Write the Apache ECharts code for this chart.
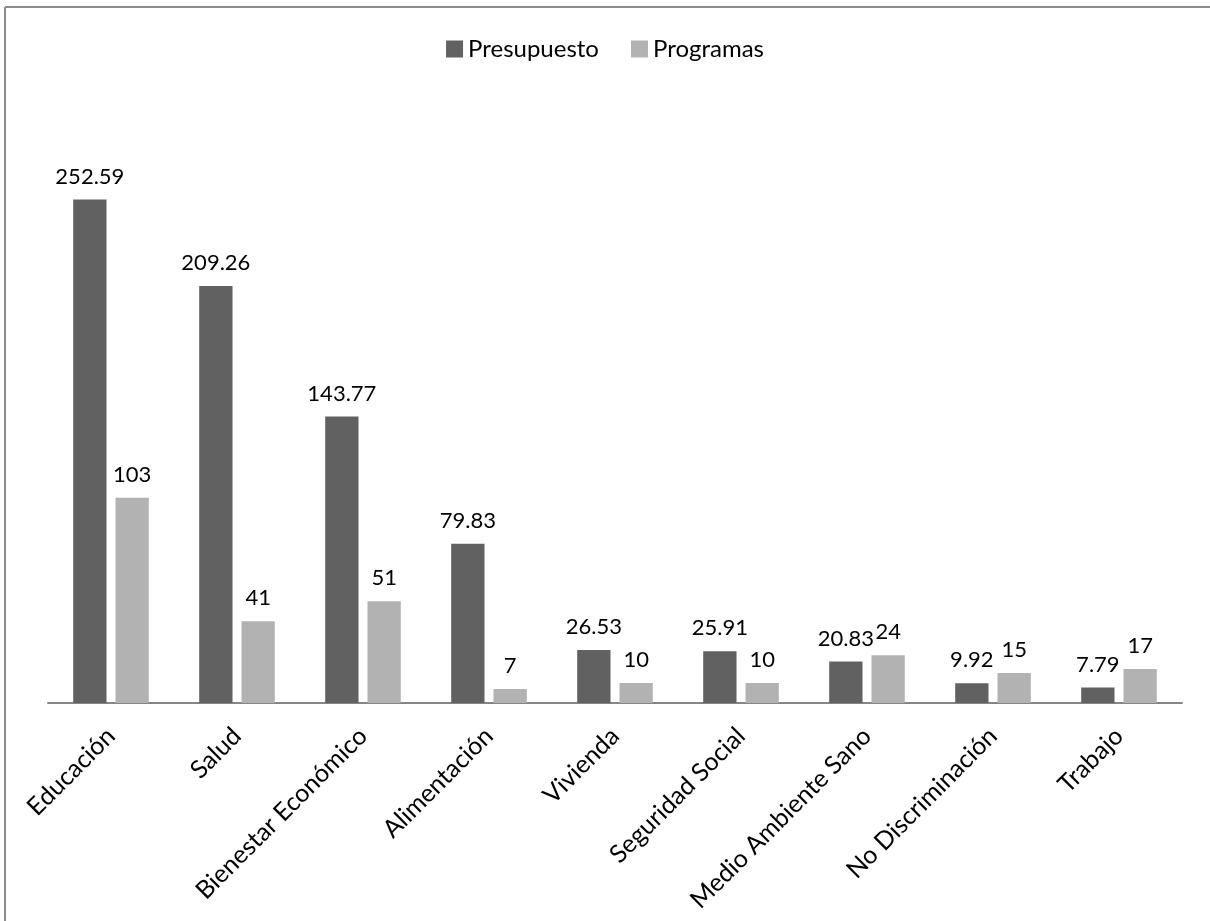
<!DOCTYPE html>
<html>
<head>
<meta charset="utf-8">
<script src="https://cdn.jsdelivr.net/npm/echarts@6/dist/echarts.min.js"></script>
<style>
  html, body { margin: 0; padding: 0; background: #fff; }
  #main { width: 1210px; height: 921px; }
</style>
</head>
<body>
<div id="main"></div>
<script>
// datos del grafico
var categorias = ['Educación', 'Salud', 'Bienestar Económico', 'Alimentación', 'Vivienda',
                  'Seguridad Social', 'Medio Ambiente Sano', 'No Discriminación', 'Trabajo'];
var presupuesto = [252.59, 209.26, 143.77, 79.83, 26.53, 25.91, 20.83, 9.92, 7.79];
var programas = [103, 41, 51, 7, 10, 10, 24, 15, 17];

var fuente = 'Lato';
var chart = echarts.init(document.getElementById('main'));

var option = {
    animation: false,
    textStyle: { fontFamily: fuente },
    legend: {
        top: 32,
        left: 'center',
        itemWidth: 17,
        itemHeight: 17,
        itemGap: 32,
        icon: 'rect',
        textStyle: { fontSize: 24, color: '#000', fontFamily: fuente },
        data: ['Presupuesto', 'Programas']
    },
    grid: { left: 48, right: 28, top: 105, bottom: 218 },
    xAxis: {
        type: 'category',
        data: categorias,
        axisTick: { show: false },
        axisLine: { lineStyle: { color: '#868686', width: 2 } },
        axisLabel: { rotate: 45, margin: 29, fontSize: 25, color: '#000', fontFamily: fuente, interval: 0 }
    },
    yAxis: {
        type: 'value',
        min: 0,
        max: 300,
        show: false,
        splitLine: { show: false }
    },
    series: [
        {
            name: 'Presupuesto',
            type: 'bar',
            data: presupuesto,
            barCategoryGap: '40%',
            barGap: '27%',
            itemStyle: { color: '#616161' },
            label: { show: true, position: 'top', distance: 12, fontSize: 22, color: '#000', fontFamily: fuente }
        },
        {
            name: 'Programas',
            type: 'bar',
            data: programas,
            itemStyle: { color: '#b2b2b2' },
            label: { show: true, position: 'top', distance: 12, fontSize: 22, color: '#000', fontFamily: fuente }
        }
    ],
    graphic: [
        { type: 'line', shape: { x1: 5, y1: 7, x2: 1210, y2: 7 }, style: { stroke: '#8c8c8c', lineWidth: 2 } },
        { type: 'line', shape: { x1: 5, y1: 7, x2: 5, y2: 921 }, style: { stroke: '#8c8c8c', lineWidth: 2 } }
    ]
};

chart.setOption(option);
window.onresize = function () { chart.resize(); };
</script>
</body>
</html>
